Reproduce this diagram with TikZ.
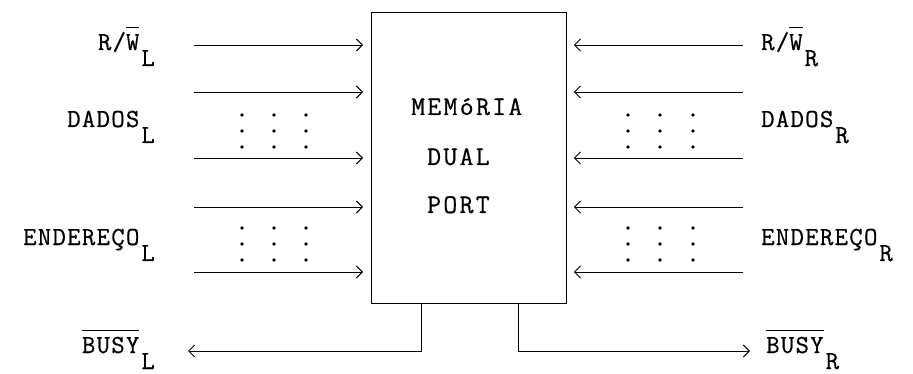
\documentclass[tikz,border=0pt]{standalone}
\usepackage{fontspec}
\usetikzlibrary{arrows.meta}
\newfontfamily\lblfont{Latin Modern Mono}[LetterSpace=5,FakeBold=0.6]
\newfontfamily\midfont{Latin Modern Mono}[LetterSpace=8.5,FakeBold=0.6]
\newcommand\ovl[1]{\setbox0\hbox{#1}\rlap{\rule[0.86em]{\wd0}{0.8pt}}\box0}
\newcommand\subl[1]{\kern2pt\raisebox{-16pt}{#1}}
\tikzset{
  sig/.style={line width=0.9pt, -{Straight Barb[length=6pt,width=12pt,line width=0.9pt]}},
  lbl/.style={inner sep=0pt, font=\lblfont\fontsize{26}{30}\selectfont},
  mid/.style={inner sep=0pt, font=\midfont\fontsize{27}{32}\selectfont},
  memb/.style={draw, line width=0.9pt, inner sep=0pt, minimum width=195pt, minimum height=291pt},
}
\begin{document}
\begin{tikzpicture}[x=1pt,y=-1pt]
\path[use as bounding box] (0,0) rectangle (913,374);
\node[memb, anchor=north west] (mem) at (371,12) {};
% input arrows
\foreach \y [count=\i] in {45,92,158,207,272} {
  \coordinate (lt\i) at (194,\y);
  \coordinate (rt\i) at (743,\y);
  \draw[sig] (lt\i) -- ([xshift=-8pt]mem.west |- lt\i);
  \draw[sig] (rt\i) -- ([xshift=7pt]mem.east |- rt\i);
}
% busy outputs
\coordinate (bl) at (188,351);
\coordinate (br) at (750,351);
\draw[sig] ([xshift=-47.5pt]mem.south) |- (bl);
\draw[sig] ([xshift=49.5pt]mem.south) |- (br);
% dots
\foreach \x in {242,274,306,628,660,693}
  \foreach \y in {115,131,147,228,244,260}
    \fill (\x,\y) circle (1.8pt);
% left labels
\node[lbl, anchor=base east] (rwl) at (155,50) {R/\ovl{W}\subl{L}};
\node[lbl, anchor=base east] (dl) at (155,127) {DADOS\subl{L}};
\node[lbl, anchor=base east] (el) at (155,245) {ENDEREÇO\subl{L}};
\node[lbl, anchor=base east] (bsl) at (155,353) {\ovl{BUSY}\subl{L}};
% right labels
\node[lbl, anchor=base west] (rwr) at (761,50) {R/\ovl{W}\subl{R}};
\node[lbl, anchor=base west] (dr) at (761,127) {DADOS\subl{R}};
\node[lbl, anchor=base west] (er) at (761,245) {ENDEREÇO\subl{R}};
\node[lbl, anchor=base west] (bsr) at (766,353) {\ovl{BUSY}\subl{R}};
% centre text
\node[mid, anchor=base west] (t1) at (411,115) {MEMóRIA};
\node[mid, anchor=base west] (t2) at (427,165) {DUAL};
\node[mid, anchor=base west] (t3) at (427,213) {PORT};
\end{tikzpicture}
\end{document}
